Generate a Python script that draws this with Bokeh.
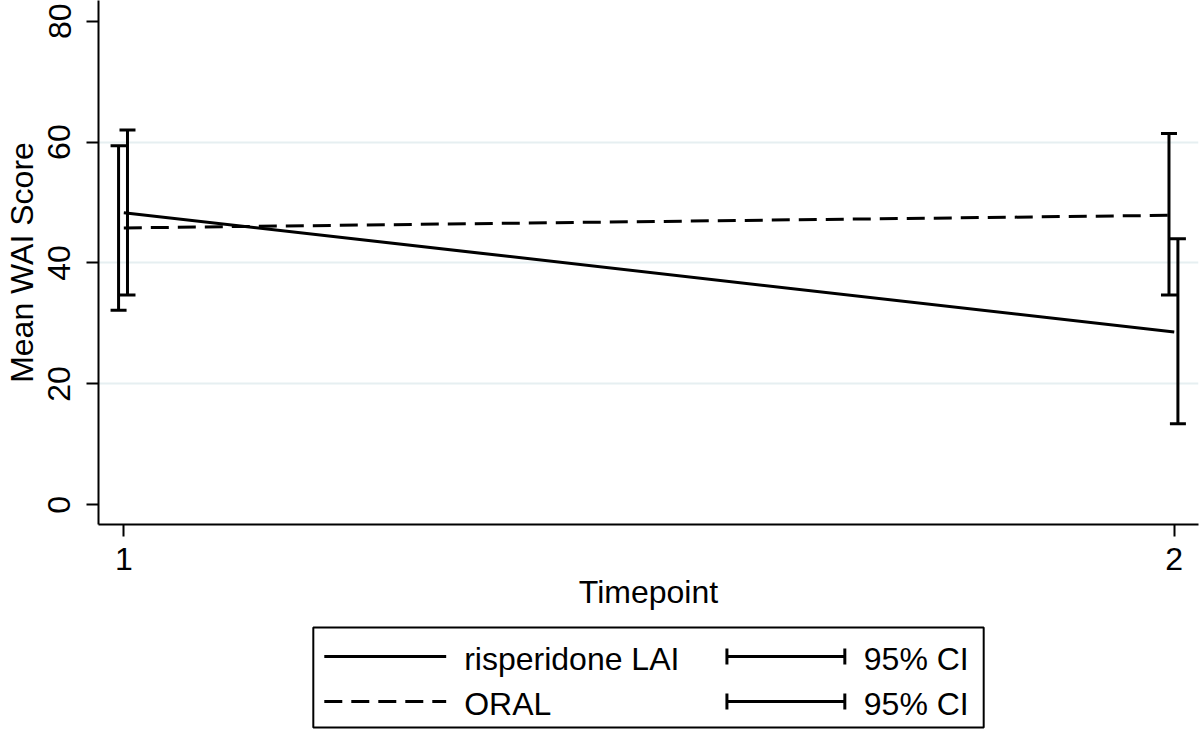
from bokeh.plotting import figure
from bokeh.models import Range1d, FixedTicker, Whisker, TeeHead, ColumnDataSource
from bokeh.layouts import column
from bokeh.embed import file_html
from bokeh.resources import INLINE
from bokeh.core.properties import value

# ---- data ----
timepoints = [1, 2]
lai_mean = [48.3, 28.6]
lai_lo = [34.7, 13.4]
lai_hi = [62.0, 44.0]
oral_mean = [45.8, 47.9]
oral_lo = [32.2, 34.7]
oral_hi = [59.4, 61.4]
groups = ["risperidone LAI", "ORAL"]
ci_labels = ["95% CI", "95% CI"]
y_ticks = [0, 20, 40, 60, 80]
x_ticks = [1, 2]
grid_ticks = [20, 40, 60]

FONT = "Liberation Sans"
FS = "32px"
LW = 3

MAIN_H = 616
TOTAL_H = 730
W = 1200

p = figure(width=W, height=MAIN_H,
           x_range=Range1d(0.9759, 2.0231), y_range=Range1d(-3.26, 83.42),
           output_backend="svg", toolbar_location=None,
           min_border_left=97, min_border_right=2, min_border_top=0,
           min_border_bottom=MAIN_H - 524)
p.outline_line_color = None
p.background_fill_color = "white"
p.border_fill_color = "white"
p.xgrid.visible = False
p.ygrid.ticker = FixedTicker(ticks=grid_ticks)
p.ygrid.grid_line_color = "#e6eff1"
p.ygrid.grid_line_width = 2

for ax in (p.xaxis[0], p.yaxis[0]):
    ax.axis_line_width = 2
    ax.axis_line_color = "black"
    ax.major_tick_line_width = 2
    ax.major_tick_line_color = "black"
    ax.major_tick_out = 12
    ax.major_tick_in = 0
    ax.minor_tick_line_color = None
    ax.major_label_text_font = FONT
    ax.major_label_text_font_size = FS
    ax.major_label_text_color = "black"
    ax.axis_label_text_font = FONT
    ax.axis_label_text_font_size = FS
    ax.axis_label_text_font_style = "normal"
    ax.axis_label_text_color = "black"

p.xaxis.ticker = FixedTicker(ticks=x_ticks)
p.xaxis.axis_label = "Timepoint"
p.xaxis.major_label_standoff = 11
p.xaxis.axis_label_standoff = 1

p.yaxis.ticker = FixedTicker(ticks=y_ticks)
p.yaxis.axis_label = "Mean WAI Score"
p.yaxis.major_label_orientation = "vertical"
p.yaxis.major_label_standoff = 16
p.yaxis.axis_label_standoff = 6

# mean lines
p.line(timepoints, lai_mean, line_width=LW, line_color="black")
p.line(timepoints, oral_mean, line_width=LW, line_color="black", line_dash="18 9")

# CI bars (slightly offset so they don't overlap)
ORAL_OFF = -0.005
LAI_OFF = 0.0035
for lo, hi, off in ((oral_lo, oral_hi, ORAL_OFF), (lai_lo, lai_hi, LAI_OFF)):
    src = ColumnDataSource(dict(x=[t + off for t in timepoints], lo=lo, hi=hi))
    w = Whisker(source=src, base="x", lower="lo", upper="hi", dimension="height",
                line_width=LW, line_color="black",
                upper_head=TeeHead(size=16, line_width=LW, line_color="black"),
                lower_head=TeeHead(size=16, line_width=LW, line_color="black"))
    p.add_layout(w)

# ---- legend panel (coordinates in page pixels) ----
lg = figure(width=W, height=TOTAL_H - MAIN_H,
            x_range=Range1d(97, W - 2), y_range=Range1d(TOTAL_H, MAIN_H),
            output_backend="svg", toolbar_location=None,
            min_border_left=97, min_border_right=2, min_border_top=0, min_border_bottom=0)
lg.axis.visible = False
lg.grid.visible = False
lg.outline_line_color = None

lg.quad(left=312, right=983, top=627, bottom=727, fill_color=None, line_color="black", line_width=2)
rows = [656, 701]
dashes = ["solid", "18 9"]
for i, g in enumerate(groups):
    y = rows[i]
    lg.segment(x0=[323], x1=[445], y0=[y], y1=[y], line_width=LW, line_color="black", line_dash=dashes[i])
    lg.segment(x0=[726], x1=[844], y0=[y], y1=[y], line_width=LW, line_color="black")
    lg.segment(x0=[726, 844], x1=[726, 844], y0=[y - 8, y - 8], y1=[y + 8, y + 8], line_width=LW, line_color="black")
lg.text(x=[463, 463], y=[r + 2 for r in rows], text=groups, text_baseline="middle", text_align="left",
        text_font=value(FONT), text_font_size=FS, text_color="black")
lg.text(x=[863, 863], y=[r + 2 for r in rows], text=ci_labels, text_baseline="middle", text_align="left",
        text_font=value(FONT), text_font_size=FS, text_color="black")

layout = column(p, lg, spacing=0)
open("out.html", "w").write(file_html(layout, INLINE))
